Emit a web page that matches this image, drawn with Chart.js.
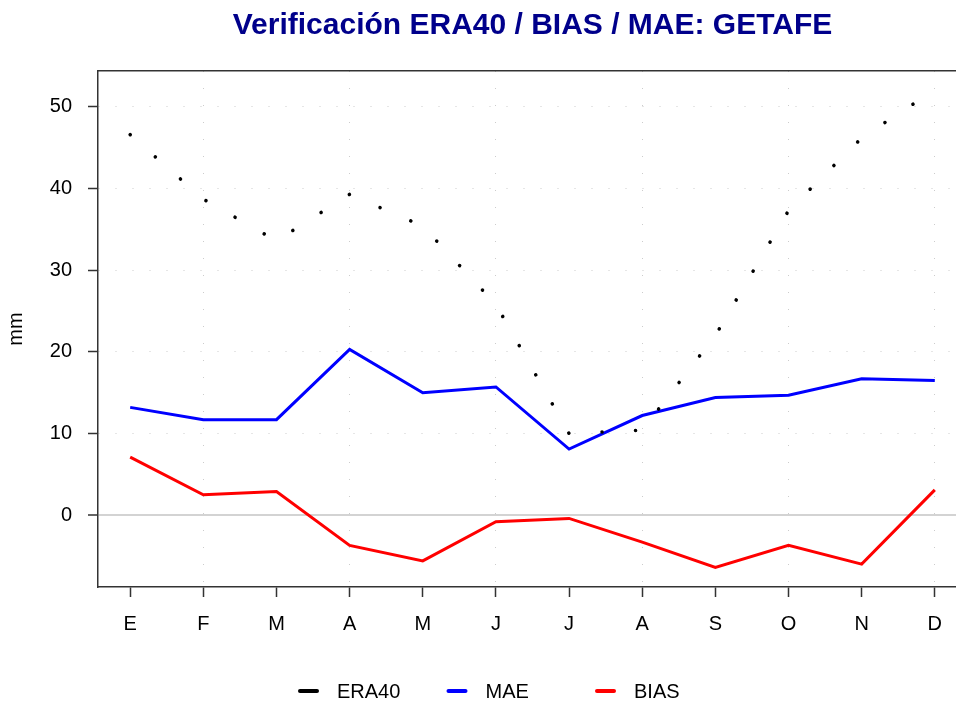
<!DOCTYPE html>
<html>
<head>
<meta charset="utf-8">
<script src="https://cdn.jsdelivr.net/npm/chart.js@4/dist/chart.umd.min.js"></script>
<style>
html, body { margin: 0; padding: 0; background: #fff; overflow: hidden; }
#wrap { width: 956px; height: 704px; overflow: hidden; }
</style>
</head>
<body>
<div id="wrap"><canvas id="verifChart" width="970" height="704"></canvas></div>
<script>
const months = ['E', 'F', 'M', 'A', 'M', 'J', 'J', 'A', 'S', 'O', 'N', 'D'];
const era40 = [46.6, 38.7, 33.6, 39.3, 35.4, 25.8, 10.0, 10.4, 22.0, 37.3, 46.2, 52.1];
const mae = [13.2, 11.7, 11.7, 20.3, 15.0, 15.7, 8.1, 12.2, 14.4, 14.7, 16.7, 16.5];
const bias = [7.1, 2.5, 2.9, -3.7, -5.6, -0.8, -0.4, -3.3, -6.4, -3.7, -6.0, 3.1];
const yTicks = [0, 10, 20, 30, 40, 50];

Chart.defaults.font.family = '"Liberation Sans", Arial, sans-serif';
Chart.defaults.color = '#000';

function toPoints(values) {
    return values.map((v, i) => ({ x: i + 1, y: v }));
}

// R style legend: equal width columns under the plot
const bottomLegend = {
    id: 'bottomLegend',
    afterDraw(chart) {
        const ctx = chart.ctx;
        ctx.save();
        ctx.font = '20px "Liberation Sans", Arial, sans-serif';
        ctx.textBaseline = 'middle';
        ctx.fillStyle = '#000';
        chart.data.datasets.forEach((ds, i) => {
            const x = 298 + i * 148.5;
            const y = 691;
            ctx.strokeStyle = ds.borderColor;
            ctx.lineWidth = 4;
            ctx.lineCap = 'round';
            ctx.setLineDash([]);
            ctx.beginPath();
            ctx.moveTo(x + 2, y);
            ctx.lineTo(x + 19, y);
            ctx.stroke();
            ctx.fillText(ds.label, x + 39, y + 1);
        });
        ctx.restore();
    }
};

const ctx = document.getElementById('verifChart').getContext('2d');
let chart = new Chart(ctx, {
    type: 'line',
    data: {
        datasets: [
            {
                label: 'ERA40',
                data: toPoints(era40),
                borderColor: '#000000',
                borderWidth: 3.6,
                borderDash: [0.01, 33.5],
                borderCapStyle: 'round',
                pointRadius: 0,
                tension: 0
            },
            {
                label: 'MAE',
                data: toPoints(mae),
                borderColor: '#0000ff',
                borderWidth: 3,
                pointRadius: 0,
                tension: 0
            },
            {
                label: 'BIAS',
                data: toPoints(bias),
                borderColor: '#ff0000',
                borderWidth: 3,
                pointRadius: 0,
                tension: 0
            }
        ]
    },
    options: {
        responsive: false,
        animation: false,
        layout: { padding: { left: 0, right: 3, top: 0, bottom: 57 } },
        plugins: {
            legend: { display: false },
            tooltip: { enabled: false },
            title: {
                display: true,
                fullSize: false,
                text: 'Verificación ERA40 / BIAS / MAE: GETAFE',
                color: '#00008b',
                font: { size: 30, weight: 'bold' },
                padding: { top: 8, bottom: 27 }
            }
        },
        scales: {
            x: {
                type: 'linear',
                min: 0.56,
                max: 12.44,
                afterBuildTicks: scale => {
                    scale.ticks = months.map((m, i) => ({ value: i + 1 }));
                },
                afterFit: scale => { scale.height = 60; },
                ticks: {
                    font: { size: 20 },
                    padding: 15,
                    maxRotation: 0,
                    autoSkip: false,
                    callback: value => months[value - 1]
                },
                grid: {
                    color: c => (c.tick && c.tick.value % 2 === 0) ? '#cccccc' : 'rgba(0,0,0,0)',
                    lineWidth: 1,
                    tickLength: 10,
                    tickColor: '#333',
                    tickWidth: 1.5,
                    tickBorderDash: [1, 0]
                },
                border: { display: true, color: '#333', width: 1.5, dash: [1, 16] }
            },
            xTop: {
                type: 'linear',
                position: 'top',
                min: 0,
                max: 1,
                afterFit: scale => { scale.height = 0; },
                ticks: { display: false },
                grid: { display: false },
                border: { display: true, color: '#333', width: 1.5 }
            },
            y: {
                min: -8.8,
                max: 54.4,
                afterBuildTicks: scale => {
                    scale.ticks = yTicks.map(v => ({ value: v }));
                },
                afterFit: scale => { scale.width = 98; },
                ticks: {
                    font: { size: 20 },
                    padding: 16
                },
                grid: {
                    color: c => (c.tick && c.tick.value === 0) ? '#d3d3d3' : '#cccccc',
                    lineWidth: c => (c.tick && c.tick.value === 0) ? 2 : 1,
                    tickLength: 10,
                    tickColor: '#333',
                    tickWidth: 1.5,
                    tickBorderDash: [1, 0]
                },
                border: {
                    display: true,
                    color: '#333',
                    width: 1.5,
                    dash: c => (c.tick && c.tick.value === 0) ? [] : [1, 16]
                },
                title: {
                    display: true,
                    text: 'mm',
                    font: { size: 20 },
                    padding: { top: 4, bottom: 0 }
                }
            }
        }
    },
    plugins: [bottomLegend]
});
</script>
</body>
</html>
